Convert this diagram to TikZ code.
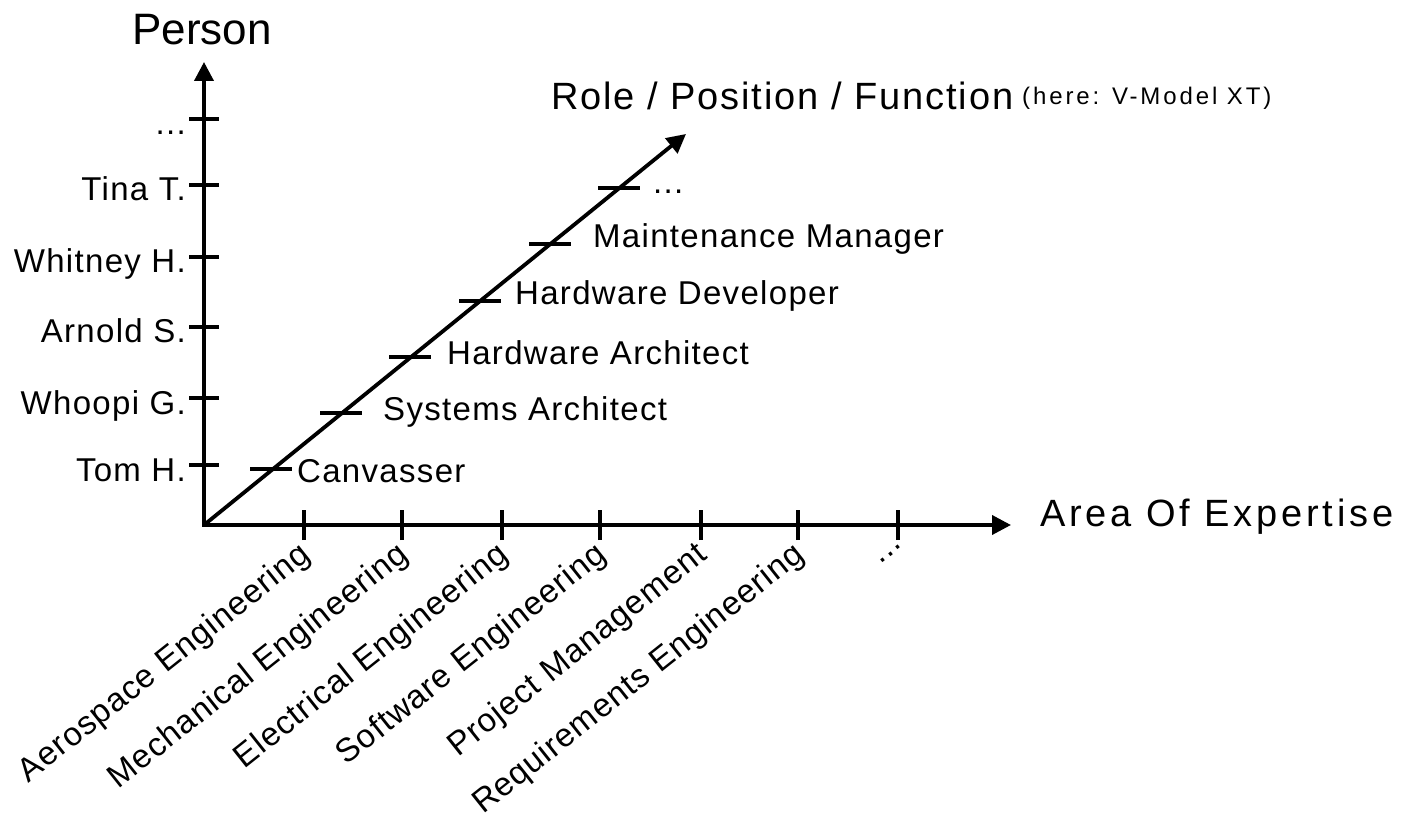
\documentclass[tikz,border=0pt]{standalone}
\usepackage{fontspec}
\setmainfont{Liberation Sans}
\usetikzlibrary{arrows.meta}
\newcommand{\mydots}{...}
\begin{document}
\begin{tikzpicture}[x=1pt,y=-1pt,
  axis/.style={line width=3.8pt,-{Triangle[length=19pt,width=19pt]}},
  tickline/.style={line width=3.8pt},
  lbl/.style={inner sep=0pt,font=\fontsize{33}{40}\selectfont\addfontfeature{LetterSpace=4}},
  ylbl/.style={lbl,anchor=base east},
  dlbl/.style={lbl,anchor=base west},
  xlbl/.style={inner sep=0pt,font=\fontsize{33}{40}\selectfont\addfontfeature{LetterSpace=3},rotate=38.5,anchor=north east},
  big/.style={inner sep=0pt,anchor=base west}]
\useasboundingbox (0,0) rectangle (1406,818);
% axes
\coordinate (O) at (204,525);
\coordinate (ytop) at (204,62);
\coordinate (xend) at (1011,525);
\coordinate (dend) at (686,134);
\draw[axis] ([yshift=1.9pt]O) -- (ytop);
\draw[axis] ([xshift=-1.9pt]O) -- (xend);
\draw[axis] (O) -- (dend);
% person ticks
\foreach \n/\y/\t in {p1/465/Tom H., p2/398/Whoopi G., p3/327/Arnold S., p4/257/Whitney H., p5/185/Tina T., p6/119/\mydots}{
  \coordinate (\n) at (204,\y);
  \draw[tickline] ([xshift=-15pt]\n) -- ([xshift=15pt]\n);
  \node[ylbl] (\n l) at (186,\y+16) {\t};
}
% expertise ticks
\foreach \n/\x/\t in {e1/304/Aerospace Engineering, e2/402/Mechanical Engineering, e3/502/Electrical Engineering, e4/600/Software Engineering, e5/701/Project Management, e6/798/Requirements Engineering}{
  \coordinate (\n) at (\x,525);
  \draw[tickline] ([yshift=-15pt]\n) -- ([yshift=15pt]\n);
  \node[xlbl] (\n l) at (\x-7,539) {\t};
}
\coordinate (e7) at (898,525);
\draw[tickline] ([yshift=-15pt]e7) -- ([yshift=15pt]e7);
\node[xlbl] (e7l) at (901,543) {\mydots};
% role ticks
\foreach \n/\x/\y in {r1/271/469, r2/341/413, r3/410/357, r4/480/301, r5/550/244, r6/619/188}{
  \coordinate (\n) at (\x,\y);
  \draw[tickline] ([xshift=-21pt]\n) -- ([xshift=21pt]\n);
}
\node[dlbl] (r1l) at (297,482) {Canvasser};
\node[dlbl] (r2l) at (383,420) {Systems Architect};
\node[dlbl] (r3l) at (447,365) {Hardware Architect};
\node[dlbl] (r4l) at (515,305) {Hardware Developer};
\node[dlbl] (r5l) at (593,248) {Maintenance Manager};
\node[dlbl] (r6l) at (653,194) {\mydots};
% axis titles
\node[big,font=\fontsize{44}{54}\selectfont] (person) at (132,45) {Person};
\node[big,font=\fontsize{38}{46}\selectfont\addfontfeature{LetterSpace=5}] (role) at (551,110) {Role / Position / Function};
\node[big,font=\fontsize{24}{29}\selectfont\addfontfeature{LetterSpace=12}] (here) at (1022,105) {(here: V-Model XT)};
\node[big,font=\fontsize{38}{46}\selectfont\addfontfeature{LetterSpace=10}] (area) at (1040,526) {Area Of Expertise};
\end{tikzpicture}
\end{document}
